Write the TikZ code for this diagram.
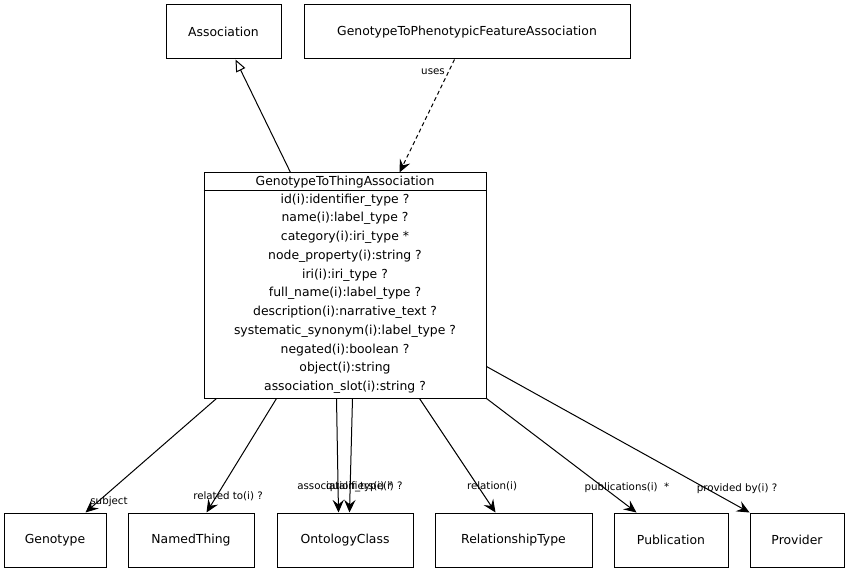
\documentclass[tikz,border=0pt]{standalone}
\usepackage{fontspec}
\setmainfont{DejaVu Sans}
\usetikzlibrary{arrows.meta,calc}
\begin{document}
\begin{tikzpicture}[x=0.75pt,y=-0.75pt,
  box/.style={draw,line width=0.75pt,inner sep=0pt,font=\fontsize{9.3}{11}\selectfont},
  attr/.style={inner sep=0pt,font=\fontsize{9.3}{11}\selectfont},
  lbl/.style={inner sep=0pt,font=\fontsize{7.7}{9}\selectfont},
  conn/.style={line width=0.75pt,-{Stealth[length=9.5pt,width=8.5pt,inset=3.5pt]}},
  inh/.style={line width=0.75pt,-{Triangle[open,length=9pt,width=7.5pt]}},
  dep/.style={conn,dash pattern=on 3pt off 2.25pt}]
\useasboundingbox (0,0) rectangle (849,573);
\fill[white] (0,0) rectangle (849,573);
% top boxes
\node[box,minimum width={115*0.75pt},minimum height={54*0.75pt}] (assoc) at (223.5,32) {Association};
\node[box,minimum width={326*0.75pt},minimum height={54*0.75pt}] (gtpfa) at (467,32) {GenotypeToPhenotypicFeatureAssociation};
% main class
\node[box,minimum width={282*0.75pt},minimum height={225*0.75pt}] (gt) at (345,285.5) {};
\draw[line width=0.75pt] ($(gt.north west)+(0,18)$) -- ($(gt.north east)+(0,18)$);
\node[attr] (title) at (345,182) {GenotypeToThingAssociation};
\foreach \t [count=\k from 0] in {
  id(i):identifier\_type ?,
  name(i):label\_type ?,
  category(i):iri\_type *,
  node\_property(i):string ?,
  iri(i):iri\_type ?,
  full\_name(i):label\_type ?,
  description(i):narrative\_text ?,
  systematic\_synonym(i):label\_type ?,
  negated(i):boolean ?,
  object(i):string,
  association\_slot(i):string ?}
  \node[attr] (a\k) at (345,{200+18.7*\k}) {\t};
% bottom boxes
\node[box,minimum width={102*0.75pt},minimum height={54*0.75pt}] (genotype) at (55,540) {Genotype};
\node[box,minimum width={126*0.75pt},minimum height={54*0.75pt}] (named) at (191,540) {NamedThing};
\node[box,minimum width={136*0.75pt},minimum height={54*0.75pt}] (oc) at (345,540) {OntologyClass};
\node[box,minimum width={157*0.75pt},minimum height={54*0.75pt}] (rt) at (513.5,540) {RelationshipType};
\node[box,minimum width={114*0.75pt},minimum height={54*0.75pt}] (pub) at (671,540) {Publication};
\node[box,minimum width={94*0.75pt},minimum height={54*0.75pt}] (prov) at (797,540) {Provider};
% top connectors
\draw[inh] ($(gt.north west)+(87,0)$) -- ($(assoc.south west)+(70,0)$);
\draw[dep] ($(gtpfa.south west)+(151,0)$) -- ($(gt.north west)+(196,0)$);
\node[lbl] (luses) at (433,72) {uses};
% bottom connectors
\draw[conn] ($(gt.south west)+(13,0)$) -- ($(genotype.north west)+(82,0)$);
\draw[conn] ($(gt.south west)+(73,0)$) -- ($(named.north west)+(79,0)$);
\draw[conn] ($(gt.south west)+(133,0)$) -- ($(oc.north west)+(62,0)$);
\draw[conn] ($(gt.south west)+(149,0)$) -- ($(oc.north west)+(73,0)$);
\draw[conn] ($(gt.south west)+(216,0)$) -- ($(rt.north west)+(61,0)$);
\draw[conn] (gt.south east) -- ($(pub.north west)+(23,0)$);
\draw[conn] ($(gt.south east)+(0,-32)$) -- (prov.north west);
% labels
\node[lbl] (lsubj) at (109,502) {subject};
\node[lbl] (lrel) at (228,496) {related to(i) ?};
\node[lbl,anchor=west] (lat) at (297,487) {association\_type(i) ?};
\node[lbl,anchor=east] (lq) at (393,487) {qualifiers(i) *};
\node[lbl] (lrelation) at (492,486) {relation(i)};
\node[lbl] (lpub) at (627,488) {publications(i) \ *};
\node[lbl] (lprov) at (737,489) {provided by(i) ?};
\end{tikzpicture}
\end{document}
